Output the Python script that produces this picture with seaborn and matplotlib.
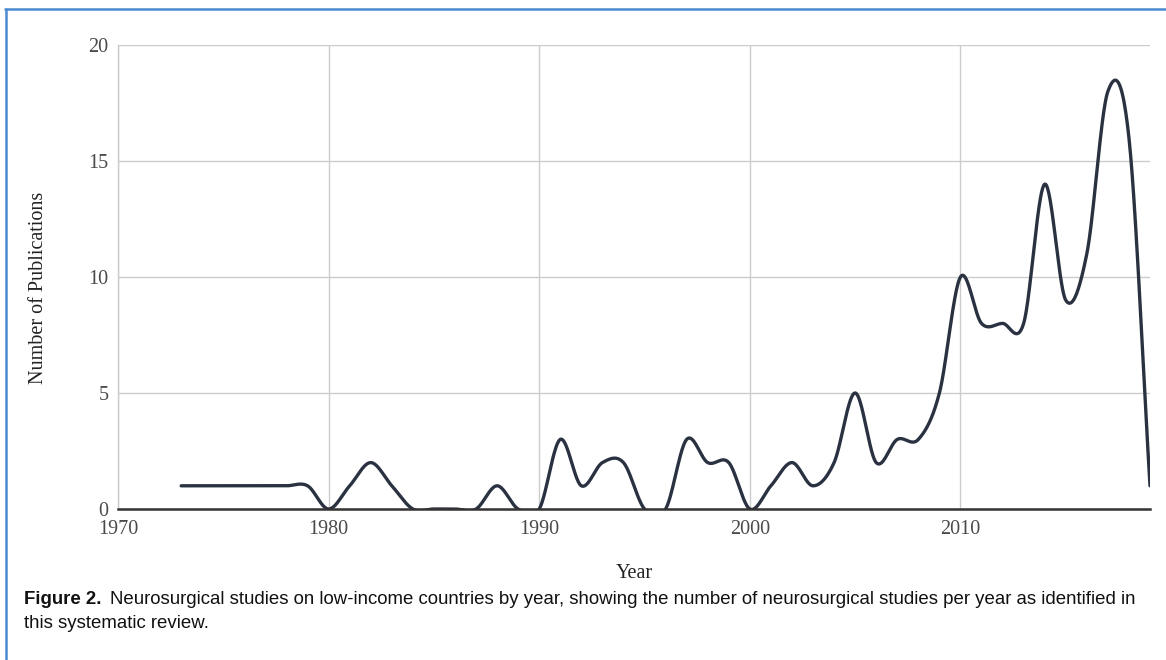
import numpy as np
import pandas as pd
import matplotlib
matplotlib.use("Agg")
import matplotlib.pyplot as plt
from matplotlib.lines import Line2D
import seaborn as sns

# ---- data ----
years = list(range(1973, 2020))
publications = [1, 1, 1, 1, 1, 1, 1,          # 1973-1979
                0, 1, 2, 1, 0, 0, 0, 0, 1, 0,  # 1980-1989
                0, 3, 1, 2, 2, 0, 0, 3, 2, 2,  # 1990-1999
                0, 1, 2, 1, 2, 5, 2, 3, 3, 5,  # 2000-2009
                10, 8, 8, 8, 14, 9, 11, 18, 16, 1]  # 2010-2019
x_ticks = [1970, 1980, 1990, 2000, 2010]
y_ticks = [0, 5, 10, 15, 20]
x_label = "Year"
y_label = "Number of Publications"
caption_bold = "Figure 2."
caption_line1 = "Neurosurgical studies on low-income countries by year, showing the number of neurosurgical studies per year as identified in"
caption_line2 = "this systematic review."


def smooth_curve(xv, yv, n=40):
    """Catmull-Rom style smoothing for display of the line (like a 'function' curve)."""
    xv = np.asarray(xv, float)
    yv = np.asarray(yv, float)
    m = np.zeros_like(yv)
    m[1:-1] = (yv[2:] - yv[:-2]) / (xv[2:] - xv[:-2])
    m[0] = (yv[1] - yv[0]) / (xv[1] - xv[0])
    m[-1] = (yv[-1] - yv[-2]) / (xv[-1] - xv[-2])
    xs, ys = [], []
    for i in range(len(xv) - 1):
        h = xv[i + 1] - xv[i]
        t = np.linspace(0, 1, n, endpoint=False)
        h00 = 2 * t**3 - 3 * t**2 + 1
        h10 = t**3 - 2 * t**2 + t
        h01 = -2 * t**3 + 3 * t**2
        h11 = t**3 - t**2
        xs.append(xv[i] + t * h)
        ys.append(h00 * yv[i] + h10 * h * m[i] + h01 * yv[i + 1] + h11 * h * m[i + 1])
    xs.append([xv[-1]])
    ys.append([yv[-1]])
    return np.concatenate(xs), np.concatenate(ys)


sns.set_style("white")
plt.rcParams["font.family"] = ["Liberation Serif", "DejaVu Serif"]

W, H = 1166, 660
fig = plt.figure(figsize=(W / 100, H / 100), dpi=100)
fig.patch.set_facecolor("white")

left, right, top, bottom = 118, 1150, 45, 509
ax = fig.add_axes([left / W, 1 - bottom / H, (right - left) / W, (bottom - top) / H])

sx, sy = smooth_curve(years, publications)
df = pd.DataFrame({"Year": sx, "Publications": sy})
sns.lineplot(data=df, x="Year", y="Publications", sort=False, estimator=None,
             color="#2a3242", linewidth=2.4, ax=ax, zorder=3)

ax.set_xlim(1970, 2019)
ax.set_ylim(0, 20)
ax.set_xticks(x_ticks)
ax.set_yticks(y_ticks)
ax.set_xticklabels([str(v) for v in x_ticks])
ax.set_yticklabels([str(v) for v in y_ticks])
ax.grid(True, color="#cccccc", linewidth=1.0, zorder=0)
ax.set_axisbelow(True)
for s in ["top", "right"]:
    ax.spines[s].set_visible(False)
ax.spines["left"].set_color("#cccccc")
ax.spines["left"].set_linewidth(1.0)
ax.spines["bottom"].set_color("#333333")
ax.spines["bottom"].set_linewidth(1.8)
ax.spines["bottom"].set_zorder(4)
ax.tick_params(axis="both", length=0, labelsize=14.5, colors="#4a4a4a")
ax.tick_params(axis="x", pad=8)
ax.tick_params(axis="y", pad=7)
ax.set_xlabel("")
ax.set_ylabel("")

fig.text(634 / W, 1 - 574 / H, x_label, ha="center", va="center", fontsize=14.5, color="#222222")
fig.text(39 / W, 1 - 288 / H, y_label, ha="center", va="center", rotation=90,
         fontsize=14.5, color="#222222")

# caption
cap_font = ["Liberation Sans", "DejaVu Sans"]
cap_size = 13.4
t1 = fig.text(24 / W, 1 - 599 / H, caption_bold, ha="left", va="center", fontsize=cap_size,
              fontweight="bold", family=cap_font, color="#111111")
fig.canvas.draw()
bb = t1.get_window_extent()
fig.text((bb.x1 + 9) / W, 1 - 599 / H, caption_line1, ha="left", va="center", fontsize=cap_size,
         family=cap_font, color="#111111")
fig.text(24 / W, 1 - 623 / H, caption_line2, ha="left", va="center", fontsize=cap_size,
         family=cap_font, color="#111111")

# blue frame (top and left)
fig.add_artist(Line2D([5 / W, 1], [1 - 9 / H, 1 - 9 / H], transform=fig.transFigure,
                      color="#4a8bcf", linewidth=1.8))
fig.add_artist(Line2D([6 / W, 6 / W], [1 - 9 / H, 0], transform=fig.transFigure,
                      color="#4a8bcf", linewidth=1.8))

fig.savefig("out.png", dpi=100, facecolor="white")
